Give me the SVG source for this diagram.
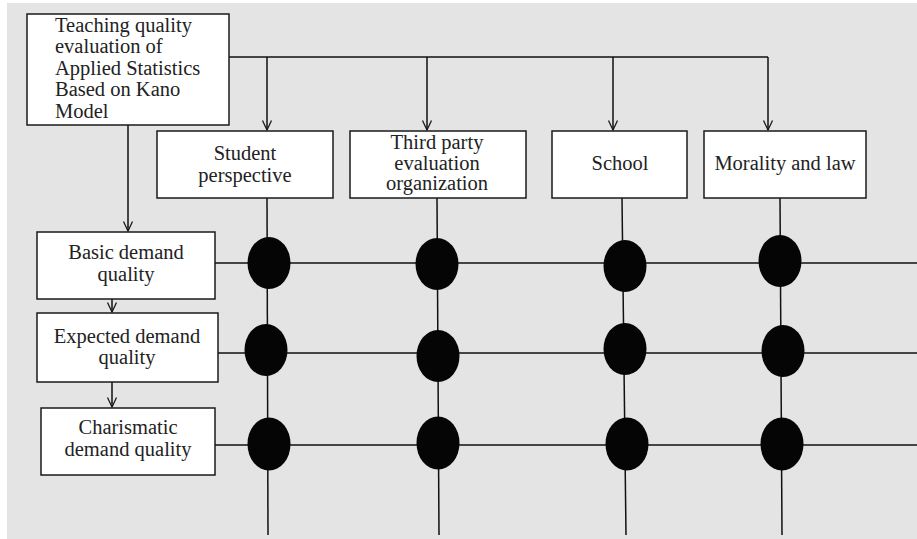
<svg xmlns="http://www.w3.org/2000/svg" width="917" height="539" viewBox="0 0 917 539">
<defs>
<marker id="arr" markerWidth="12" markerHeight="12" refX="10.5" refY="6" orient="auto" markerUnits="userSpaceOnUse" viewBox="0 0 12 12">
<path d="M1,1.5 L10.5,6 L1,10.5" fill="none" stroke="#1a1a1a" stroke-width="1.3"/>
</marker>
</defs>
<style>
.box{fill:#fff;stroke:#1a1a1a;stroke-width:1.5}
.ln{stroke:#111;stroke-width:1.5;fill:none}
.dot{fill:#050505}
text{font-family:"Liberation Serif","Times New Roman",serif;font-size:20.5px;fill:#222}
.c{text-anchor:middle}
</style>
<rect x="7" y="3" width="910" height="536" fill="#e4e4e4"/>
<g id="connectors">
<path class="ln" d="M229,57 H768"/>
<path class="ln" d="M267,57 V130" marker-end="url(#arr)"/>
<path class="ln" d="M427,57 V130" marker-end="url(#arr)"/>
<path class="ln" d="M613,57 V130" marker-end="url(#arr)"/>
<path class="ln" d="M768,57 V130" marker-end="url(#arr)"/>
<path class="ln" d="M128,125 V231" marker-end="url(#arr)"/>
<path class="ln" d="M112,299 V312" marker-end="url(#arr)"/>
<path class="ln" d="M112,382 V407" marker-end="url(#arr)"/>
<path class="ln" d="M267,198 L268,535"/>
<path class="ln" d="M437,198 L439,535"/>
<path class="ln" d="M622,198 L626,535"/>
<path class="ln" d="M780,198 L782,535"/>
<path class="ln" d="M215,263 H917"/>
<path class="ln" d="M218,353 H917"/>
<path class="ln" d="M215,445 H917"/>
<ellipse class="dot" cx="269" cy="263" rx="21.5" ry="26"/>
<ellipse class="dot" cx="437" cy="264" rx="21.5" ry="26"/>
<ellipse class="dot" cx="625" cy="266" rx="21.5" ry="26"/>
<ellipse class="dot" cx="780" cy="261" rx="21.5" ry="26"/>
<ellipse class="dot" cx="266" cy="350" rx="21.5" ry="26"/>
<ellipse class="dot" cx="438" cy="356" rx="21.5" ry="26"/>
<ellipse class="dot" cx="625" cy="349" rx="21.5" ry="26"/>
<ellipse class="dot" cx="783" cy="351" rx="21.5" ry="26"/>
<ellipse class="dot" cx="269" cy="444" rx="21.5" ry="26.5"/>
<ellipse class="dot" cx="438" cy="443" rx="21.5" ry="26.5"/>
<ellipse class="dot" cx="627" cy="444" rx="21.5" ry="26.5"/>
<ellipse class="dot" cx="782" cy="444" rx="21.5" ry="26.5"/>
</g>
<g id="main">
<rect class="box" x="27" y="14" width="202" height="111"/>
<text x="55" y="32">Teaching quality</text>
<text x="55" y="53">evaluation of</text>
<text x="55" y="75">Applied Statistics</text>
<text x="55" y="96">Based on Kano</text>
<text x="55" y="118">Model</text>
</g>
<g id="student">
<rect class="box" x="157" y="131" width="176" height="67"/>
<text class="c" x="245" y="160">Student</text>
<text class="c" x="245" y="182">perspective</text>
</g>
<g id="thirdparty">
<rect class="box" x="350" y="131" width="176" height="67"/>
<text class="c" x="437" y="149">Third party</text>
<text class="c" x="437" y="170">evaluation</text>
<text class="c" x="437" y="190">organization</text>
</g>
<g id="school">
<rect class="box" x="552" y="131" width="135" height="67"/>
<text class="c" x="620" y="170">School</text>
</g>
<g id="morality">
<rect class="box" x="704" y="131" width="162" height="67"/>
<text class="c" x="785" y="170">Morality and law</text>
</g>
<g id="basic">
<rect class="box" x="37" y="232" width="178" height="67"/>
<text class="c" x="126" y="259">Basic demand</text>
<text class="c" x="126" y="281">quality</text>
</g>
<g id="expected">
<rect class="box" x="37" y="313" width="181" height="69"/>
<text class="c" x="127" y="343">Expected demand</text>
<text class="c" x="127" y="364">quality</text>
</g>
<g id="charismatic">
<rect class="box" x="41" y="408" width="174" height="67"/>
<text class="c" x="128" y="434">Charismatic</text>
<text class="c" x="128" y="456">demand quality</text>
</g>
</svg>
